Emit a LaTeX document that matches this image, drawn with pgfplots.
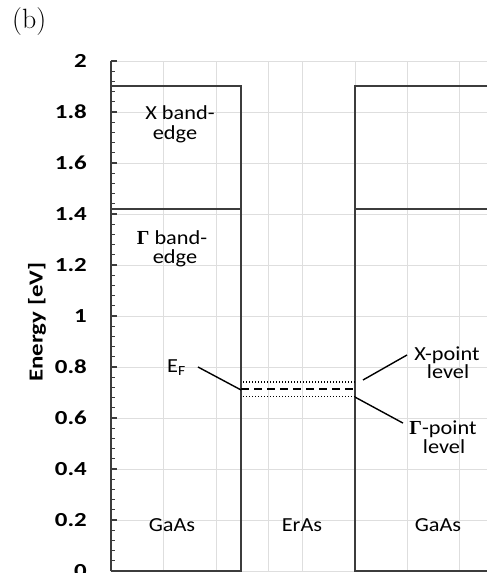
\documentclass[border=0pt]{standalone}
\usepackage{pgfplots}
\pgfplotsset{compat=1.18}
\usepackage{fontspec}
\newfontfamily\carl[FakeStretch=1.25]{Carlito}
\newfontfamily\carlt[FakeStretch=1.12]{Carlito}
\newfontfamily\serifg{Liberation Serif}
\newcommand\tickfont{\carl\bfseries\fontsize{20}{24}\selectfont}
\newcommand\txtfont{\carlt\fontsize{20}{24}\selectfont}
\newcommand\Gam{{\serifg\bfseries Γ}}
\definecolor{edgecol}{RGB}{60,60,60}
\definecolor{gridcol}{RGB}{222,222,222}

\begin{document}
\begin{tikzpicture}
\begin{axis}[
  scale only axis, width=376bp, height=510bp,
  xmin=111, xmax=487, ymin=0, ymax=2,
  axis lines*=left,
  x axis line style={draw=none},
  y axis line style={edgecol, line width=2bp},
  xtick={163,216,268,302,355,407,459}, xticklabels={},
  x tick style={draw=none},
  ytick={0,0.2,0.4,0.6,0.8,1,1.2,1.4,1.6,1.8,2},
  minor y tick num=4,
  tick align=inside,
  major tick length=6bp, minor tick length=4bp,
  y tick style={edgecol, line width=1.2bp},
  grid=major, major grid style={gridcol, line width=0.8bp},
  yticklabel style={font=\tickfont, inner sep=0pt, xshift=-24bp},
  /pgf/number format/assume math mode=true,
  ylabel={Energy [eV]},
  ylabel style={font=\tickfont, at={(axis description cs:-0.197,0.488)}, anchor=center},
  clip=false,
]
\coordinate (O) at (rel axis cs:0,0);

% GaAs band edges (left region)
\addplot[edgecol, line width=2bp] coordinates {(111,0) (111,1.9) (241,1.9) (241,0) (111,0)};
\addplot[edgecol, line width=2bp] coordinates {(111,1.42) (241,1.42)};
% GaAs band edges (right region)
\addplot[edgecol, line width=2bp] coordinates {(487,1.9) (355,1.9) (355,0) (487,0)};
\addplot[edgecol, line width=2bp] coordinates {(355,1.42) (487,1.42)};
% ErAs levels
\addplot[black, line width=1.6bp, dash pattern=on 1.4bp off 1.6bp] coordinates {(243,0.74) (355,0.74)};
\addplot[black, line width=1.9bp, dash pattern=on 8bp off 5bp] coordinates {(241,0.715) (355,0.715)};
\addplot[black, line width=1.6bp, dash pattern=on 1.4bp off 1.6bp] coordinates {(243,0.685) (355,0.685)};

% leader lines
\draw[black, line width=1.4bp] (axis cs:198,0.80) -- (axis cs:241,0.710);
\draw[black, line width=1.4bp] (axis cs:363,0.749) -- (axis cs:407,0.847);
\draw[black, line width=1.4bp] (axis cs:355,0.682) -- (axis cs:403,0.580);

% labels
\begin{scope}[every node/.style={font=\txtfont, inner sep=0pt, anchor=base}]
\node at (axis cs:180,1.769) {X band-};
\node at (axis cs:175,1.692) {edge};
\node at (axis cs:172,1.282) {\Gam{} band-};
\node at (axis cs:175,1.206) {edge};
\node[anchor=base west] at (axis cs:167,0.780) {E\textsubscript{F}};
\node at (axis cs:447,0.827) {X-point};
\node at (axis cs:448,0.755) {level};
\node at (axis cs:443,0.537) {\Gam-point};
\node at (axis cs:444,0.461) {level};
\node at (axis cs:172,0.153) {GaAs};
\node at (axis cs:302,0.153) {ErAs};
\node at (axis cs:438,0.153) {GaAs};
\end{scope}
\end{axis}
\node[anchor=base west, inner sep=0pt, font=\fontsize{28}{32}\selectfont] at ([shift={(-99bp,542bp)}]O) {(b)};
\pgfresetboundingbox
\path[use as bounding box] ([shift={(-111bp,-2bp)}]O) rectangle ([shift={(378bp,571bp)}]O);
\end{tikzpicture}
\end{document}
